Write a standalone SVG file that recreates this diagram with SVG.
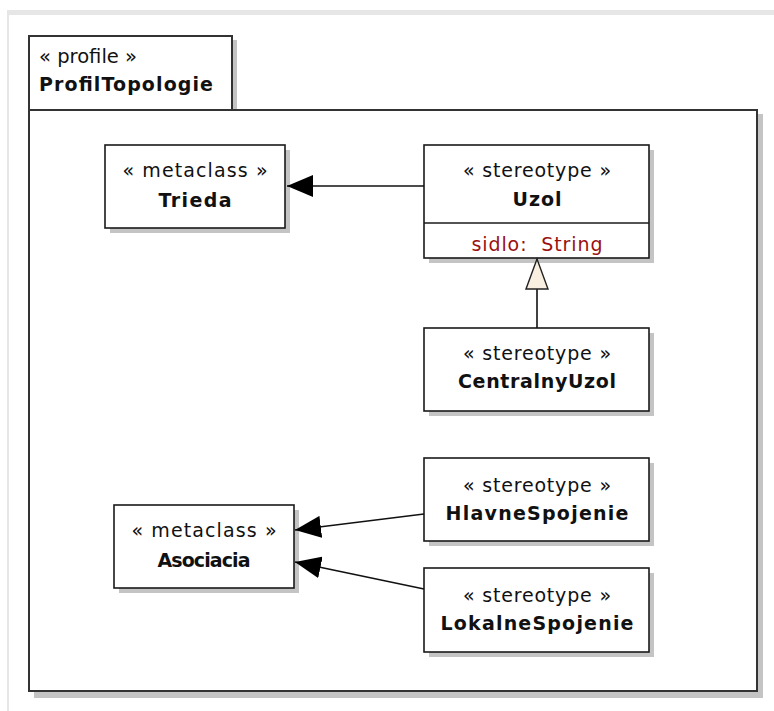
<svg xmlns="http://www.w3.org/2000/svg" width="774" height="711" viewBox="0 0 774 711">
  <style>
    .shadow { fill: #c4c4c4; }
    .box { fill: #ffffff; stroke: #1a1a1a; stroke-width: 1.6; }
    .pkg { fill: #ffffff; stroke: #333333; stroke-width: 2; }
    text { font-family: "DejaVu Sans", "Liberation Sans", sans-serif; white-space: pre; }
    .st { font-size: 19px; fill: #111111; text-anchor: middle; }
    .nm { font-size: 19px; font-weight: bold; fill: #111111; text-anchor: middle; }
    .attr { font-size: 19px; fill: #9a1010; text-anchor: middle; }
    .edge { fill: none; stroke: #111111; stroke-width: 1.6; }
  </style>
  <defs>
    <marker id="ext" viewBox="0 0 26 22" refX="26" refY="11" markerWidth="26" markerHeight="22" markerUnits="userSpaceOnUse" orient="auto">
      <path d="M0,0 L26,11 L0,22 Z" fill="#000000"/>
    </marker>
    <marker id="gen" viewBox="-1 -1 33 25" refX="30" refY="11" markerWidth="33" markerHeight="25" markerUnits="userSpaceOnUse" orient="auto">
      <path d="M0,0 L30,11 L0,22 Z" fill="#f8efe1" stroke="#222222" stroke-width="1.4"/>
    </marker>
  </defs>

  <!-- canvas frame -->
  <rect x="7" y="10" width="767" height="5" fill="#e6e6e6"/>
  <rect x="7" y="10" width="2" height="701" fill="#e6e6e6"/>

  <!-- package ProfilTopologie -->
  <g id="ProfilTopologie">
    <rect class="shadow" x="33" y="40" width="204" height="74"/>
    <rect class="shadow" x="34" y="114" width="729" height="584"/>
    <rect class="pkg" x="29" y="36" width="203" height="74"/>
    <rect class="pkg" x="29" y="110" width="728" height="581"/>
    <text x="39" y="63" font-size="19" fill="#111111" textLength="98" lengthAdjust="spacingAndGlyphs">« profile »</text>
    <text x="39" y="91" font-size="19" font-weight="bold" fill="#111111" textLength="174" lengthAdjust="spacing">ProfilTopologie</text>
  </g>

  <!-- metaclass Trieda -->
  <g id="Trieda">
    <rect class="shadow" x="110" y="150" width="180" height="83"/>
    <rect class="box" x="105" y="145" width="180" height="83"/>
    <text class="st" x="195" y="177" textLength="145" lengthAdjust="spacing">« metaclass »</text>
    <text class="nm" x="195" y="207" textLength="73" lengthAdjust="spacing">Trieda</text>
  </g>

  <!-- stereotype Uzol -->
  <g id="Uzol">
    <rect class="shadow" x="429" y="150" width="225" height="113"/>
    <rect class="box" x="424" y="145" width="225" height="113"/>
    <line x1="424" y1="223" x2="649" y2="223" stroke="#1a1a1a" stroke-width="1.6"/>
    <text class="st" x="537" y="177" textLength="148" lengthAdjust="spacing">« stereotype »</text>
    <text class="nm" x="537" y="206" textLength="49" lengthAdjust="spacing">Uzol</text>
    <text class="attr" x="537" y="251" textLength="131" lengthAdjust="spacing">sidlo:  String</text>
  </g>

  <!-- stereotype CentralnyUzol -->
  <g id="CentralnyUzol">
    <rect class="shadow" x="429" y="333" width="225" height="83"/>
    <rect class="box" x="424" y="328" width="225" height="83"/>
    <text class="st" x="537" y="360" textLength="148" lengthAdjust="spacing">« stereotype »</text>
    <text class="nm" x="537" y="388" textLength="158" lengthAdjust="spacing">CentralnyUzol</text>
  </g>

  <!-- metaclass Asociacia -->
  <g id="Asociacia">
    <rect class="shadow" x="119" y="510" width="180" height="83"/>
    <rect class="box" x="114" y="505" width="180" height="83"/>
    <text class="st" x="204" y="537" textLength="145" lengthAdjust="spacing">« metaclass »</text>
    <text class="nm" x="204" y="567" textLength="93" lengthAdjust="spacing">Asociacia</text>
  </g>

  <!-- stereotype HlavneSpojenie -->
  <g id="HlavneSpojenie">
    <rect class="shadow" x="429" y="463" width="225" height="83"/>
    <rect class="box" x="424" y="458" width="225" height="83"/>
    <text class="st" x="537" y="492" textLength="148" lengthAdjust="spacing">« stereotype »</text>
    <text class="nm" x="537" y="520" textLength="183" lengthAdjust="spacing">HlavneSpojenie</text>
  </g>

  <!-- stereotype LokalneSpojenie -->
  <g id="LokalneSpojenie">
    <rect class="shadow" x="429" y="573" width="225" height="84"/>
    <rect class="box" x="424" y="568" width="225" height="84"/>
    <text class="st" x="537" y="602" textLength="148" lengthAdjust="spacing">« stereotype »</text>
    <text class="nm" x="537" y="630" textLength="193" lengthAdjust="spacing">LokalneSpojenie</text>
  </g>

  <!-- extensions and generalization -->
  <g id="connectors">
    <line class="edge" x1="424" y1="186" x2="287" y2="186" marker-end="url(#ext)"/>
    <line class="edge" x1="537" y1="328" x2="537" y2="259" marker-end="url(#gen)"/>
    <line class="edge" x1="424" y1="514" x2="295" y2="530" marker-end="url(#ext)"/>
    <line class="edge" x1="424" y1="589" x2="295" y2="562" marker-end="url(#ext)"/>
  </g>
</svg>
